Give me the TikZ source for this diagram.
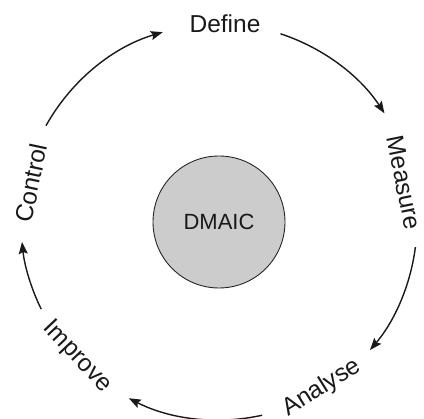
\documentclass[tikz,border=0pt]{standalone}
\usepackage{fontspec}
\setmainfont{Liberation Sans}
\usetikzlibrary{arrows.meta,calc}
\begin{document}
\begin{tikzpicture}[x=1pt,y=1pt,
  lbl/.style={inner sep=0pt,font=\fontsize{24.5}{28}\selectfont,text=black!90},
  arr/.style={line width=1.4pt,-{Stealth[length=12pt,width=9pt,inset=2pt]},black!90}]
\useasboundingbox (0,0) rectangle (424,-419);
\coordinate (c) at (219,-222);
\node[circle,draw=black!85,line width=0.9pt,fill=black!20,minimum size=132pt,inner sep=0pt,font=\fontsize{22}{26}\selectfont,text=black!90] (dmaic) at (c) {DMAIC};
\node[lbl,rotate=0] (def) at (225,-24) {Define};
\node[lbl,rotate=-78.5] (mea) at (404,-183) {Measure};
\node[lbl,rotate=32] (ana) at (322,-388) {Analyse};
\node[lbl,rotate=-46.5] (imp) at (77,-357) {Improve};
\node[lbl,rotate=78] (con) at (31,-183) {Control};
\coordinate (a1) at ($(c)+(150.9:198)$);
\coordinate (a2) at ($(c)+(71.9:198)$);
\coordinate (a3) at ($(c)+(-7.3:198)$);
\coordinate (a4) at ($(c)+(-77.4:198)$);
\coordinate (a5) at ($(c)+(206.1:198)$);
\draw[arr] (a1) arc[start angle=150.9,end angle=106.5,radius=198];
\draw[arr] (a2) arc[start angle=71.9,end angle=33.3,radius=198];
\draw[arr] (a3) arc[start angle=-7.3,end angle=-40.3,radius=198];
\draw[arr] (a4) arc[start angle=-77.4,end angle=-117.1,radius=198];
\draw[arr] (a5) arc[start angle=206.1,end angle=185.8,radius=198];
\end{tikzpicture}
\end{document}
